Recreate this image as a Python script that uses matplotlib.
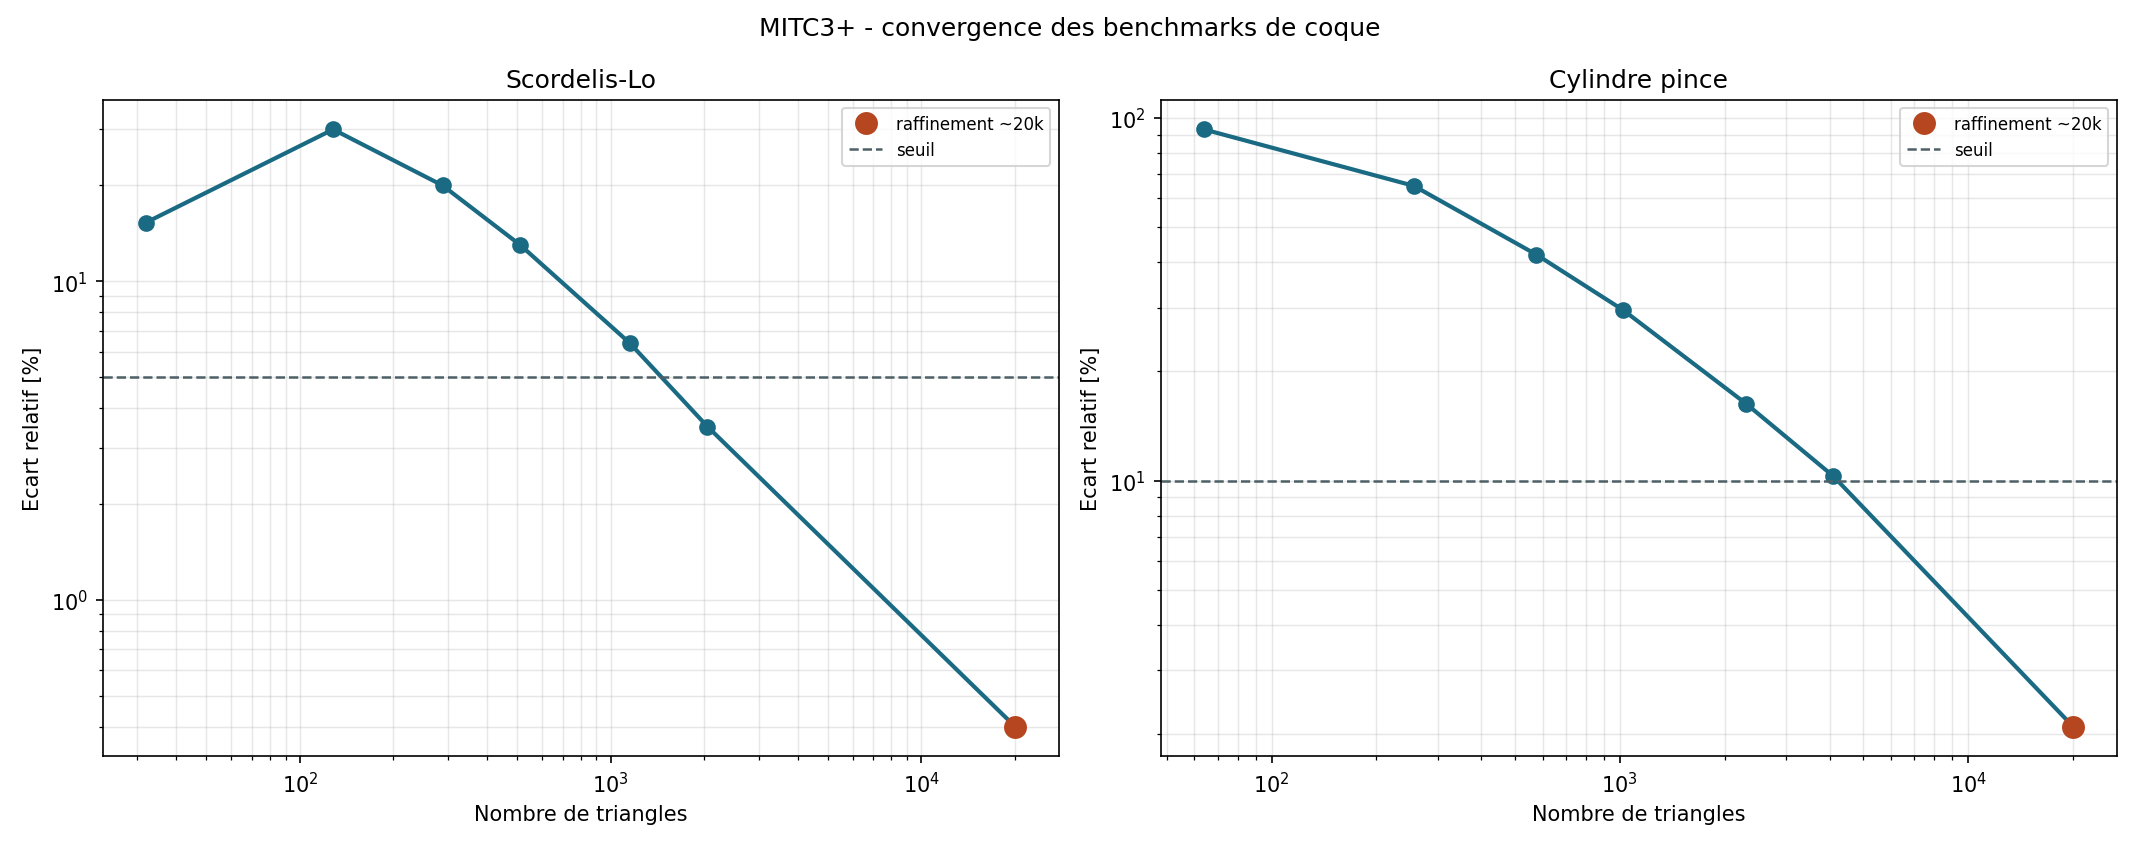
import matplotlib
matplotlib.use("Agg")
import matplotlib.pyplot as plt

# Scordelis-Lo
sl_tri = [32, 128, 288, 512, 1152, 2048]
sl_err = [15.3, 30.0, 20.0, 13.0, 6.4, 3.5]
sl_fine_tri = 20000
sl_fine_err = 0.40
sl_seuil = 5.0

# Cylindre pince
cy_tri = [64, 256, 576, 1024, 2304, 4096]
cy_err = [93.0, 65.0, 42.0, 29.5, 16.3, 10.3]
cy_fine_tri = 20000
cy_fine_err = 2.1
cy_seuil = 10.0

line_col = "#1a6a84"
fine_col = "#b5461f"

fig, axes = plt.subplots(1, 2, figsize=(14.26, 5.653), dpi=150)

panels = [
    (axes[0], "Scordelis-Lo", sl_tri, sl_err, sl_fine_tri, sl_fine_err, sl_seuil),
    (axes[1], "Cylindre pince", cy_tri, cy_err, cy_fine_tri, cy_fine_err, cy_seuil),
]
for ax, title, tri, err, ft, fe, seuil in panels:
    ax.loglog(tri + [ft], err + [fe], "-o", color=line_col, lw=2, ms=7)
    ax.plot([ft], [fe], "o", color=fine_col, ms=10, label="raffinement ~20k", zorder=5)
    ax.axhline(seuil, color="#4d6066", ls="--", lw=1.2, label="seuil")
    ax.grid(True, which="both", alpha=0.3, lw=0.7)
    ax.set_title(title, fontsize=12)
    ax.set_xlabel("Nombre de triangles")
    ax.set_ylabel("Ecart relatif [%]")
    ax.legend(fontsize=8, loc="upper right")

fig.suptitle("MITC3+ - convergence des benchmarks de coque", fontsize=12)
fig.tight_layout()
fig.savefig("out.png")
